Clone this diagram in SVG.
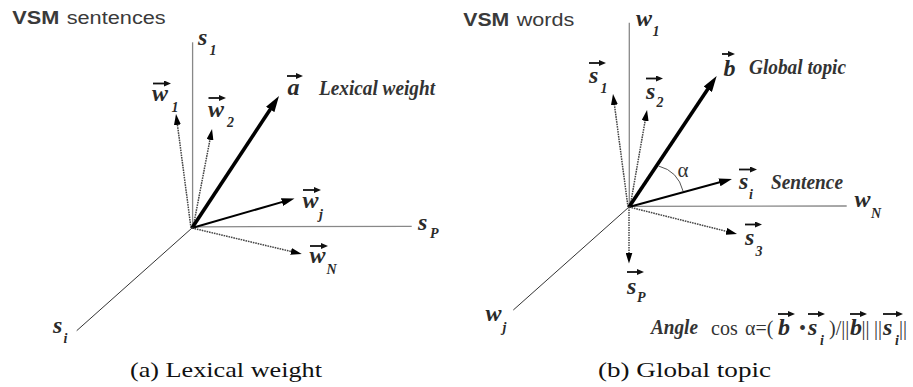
<svg xmlns="http://www.w3.org/2000/svg" width="913" height="387" viewBox="0 0 913 387">
<style>
.title{font-family:"Liberation Sans",Arial,sans-serif;font-size:18px;fill:#3a3a3a}
.b{font-weight:bold}
.v{font-family:"Liberation Serif","Times New Roman",serif;font-weight:bold;font-style:italic;font-size:24px;fill:#2a2a2a}
.sub{font-family:"Liberation Serif","Times New Roman",serif;font-weight:bold;font-style:italic;font-size:14px;fill:#2a2a2a}
.lbl{font-family:"Liberation Serif","Times New Roman",serif;font-weight:bold;font-style:italic;font-size:20px;fill:#333}
.rm{font-family:"Liberation Serif","Times New Roman",serif;font-size:21px;fill:#333}
.fm{font-family:"Liberation Serif","Times New Roman",serif;font-size:20px;fill:#333}
.cap{font-family:"Liberation Serif","Times New Roman",serif;font-size:22px;fill:#111}
.axis{stroke:#888;stroke-width:1.3;fill:none}
.axis2{stroke:#333;stroke-width:1;fill:none}
.thick{stroke:#000;stroke-width:3.6;fill:none}
.med{stroke:#000;stroke-width:2;fill:none}
.dot{stroke:#444;stroke-width:1.5;stroke-dasharray:1.6 0.9;fill:none}
.hat{stroke:#111;stroke-width:1.8;fill:none}
</style>
<defs>
<marker id="ab" markerUnits="userSpaceOnUse" markerWidth="16" markerHeight="10" refX="8" refY="5" orient="auto"><path d="M0,0 L16,5 L0,10 z" fill="#000"/></marker>
<marker id="am" markerUnits="userSpaceOnUse" markerWidth="13" markerHeight="8" refX="6" refY="4" orient="auto"><path d="M0,0 L13,4 L0,8 z" fill="#000"/></marker>
<marker id="as" markerUnits="userSpaceOnUse" markerWidth="11" markerHeight="7" refX="5" refY="3.5" orient="auto"><path d="M0,0 L11,3.5 L0,7 z" fill="#000"/></marker>
<marker id="ah" markerUnits="userSpaceOnUse" markerWidth="7" markerHeight="6" refX="3" refY="3" orient="auto"><path d="M0,0 L7,3 L0,6 z" fill="#111"/></marker>
</defs>

<!-- Left panel: VSM sentences -->
<g id="title-a">
<text class="title b" x="12.3" y="24" textLength="47" lengthAdjust="spacingAndGlyphs">VSM</text>
<text class="title" x="66.7" y="24" textLength="99" lengthAdjust="spacingAndGlyphs">sentences</text>
</g>
<g id="axes-a">
<line class="axis" x1="192.6" y1="42.3" x2="192.6" y2="228"/>
<line class="axis" x1="192" y1="226.8" x2="411.7" y2="226.3"/>
<line class="axis2" x1="192" y1="228" x2="76.7" y2="330.7"/>
</g>
<g id="connectors-a">
<line class="dot" x1="191" y1="228" x2="176.8" y2="119.9" marker-end="url(#as)"/>
<line class="dot" x1="193" y1="228" x2="210.9" y2="134.9" marker-end="url(#as)"/>
<line class="thick" x1="192" y1="228" x2="274.6" y2="102.7" marker-end="url(#ab)"/>
<line class="med" x1="192" y1="228" x2="287.8" y2="200.4" marker-end="url(#am)"/>
<line class="dot" x1="192" y1="228" x2="295.9" y2="252.6" marker-end="url(#as)"/>
</g>
<g id="label-s1-a"><text class="v" x="198" y="45">s</text><text class="sub" x="209.5" y="55">1</text></g>
<g id="node-w1"><line class="hat" x1="153" y1="83.5" x2="167" y2="83.5" marker-end="url(#ah)"/><text class="v" x="152" y="101">w</text><text class="sub" x="171.5" y="111.5">1</text></g>
<g id="node-w2"><line class="hat" x1="208.5" y1="98" x2="222" y2="98" marker-end="url(#ah)"/><text class="v" x="208" y="117">w</text><text class="sub" x="227" y="127">2</text></g>
<g id="node-a"><line class="hat" x1="287" y1="76" x2="299" y2="76" marker-end="url(#ah)"/><text class="v" x="287.5" y="95">a</text><text class="lbl" x="319" y="95" textLength="116" lengthAdjust="spacingAndGlyphs">Lexical weight</text></g>
<g id="node-wj"><line class="hat" x1="303" y1="190" x2="317" y2="190" marker-end="url(#ah)"/><text class="v" x="302.5" y="208">w</text><text class="sub" x="319" y="219">j</text></g>
<g id="node-wN"><line class="hat" x1="310" y1="246" x2="324" y2="246" marker-end="url(#ah)"/><text class="v" x="309.5" y="263">w</text><text class="sub" x="326.5" y="274">N</text></g>
<g id="label-sP-a"><text class="v" x="418" y="230">s</text><text class="sub" x="430" y="238">P</text></g>
<g id="label-si-a"><text class="v" x="53" y="333">s</text><text class="sub" x="63.5" y="343">i</text></g>
<text class="cap" x="130" y="377" textLength="192" lengthAdjust="spacingAndGlyphs">(a) Lexical weight</text>

<!-- Right panel: VSM words -->
<g id="title-b">
<text class="title b" x="463.3" y="26" textLength="46" lengthAdjust="spacingAndGlyphs">VSM</text>
<text class="title" x="516.7" y="26" textLength="57.6" lengthAdjust="spacingAndGlyphs">words</text>
</g>
<g id="axes-b">
<line class="axis" x1="629.3" y1="22.7" x2="629.3" y2="207"/>
<line class="axis" x1="629" y1="206.3" x2="846.7" y2="206"/>
<line class="axis2" x1="629" y1="207" x2="513.3" y2="310"/>
</g>
<g id="connectors-b">
<line class="dot" x1="628" y1="207" x2="613.8" y2="99.9" marker-end="url(#as)"/>
<line class="dot" x1="630" y1="207" x2="646" y2="115.9" marker-end="url(#as)"/>
<line class="thick" x1="629" y1="207" x2="712.2" y2="82.6" marker-end="url(#ab)"/>
<line class="med" x1="629" y1="207" x2="725.2" y2="180.8" marker-end="url(#am)"/>
<line class="dot" x1="629" y1="207" x2="731.2" y2="232.5" marker-end="url(#as)"/>
<line class="dot" x1="629" y1="207" x2="629" y2="257.5" marker-end="url(#as)"/>
<path d="M658.5,166 Q678,171 683,191" stroke="#555" stroke-width="1" fill="none"/>
</g>
<text class="rm" x="677.5" y="177" fill="#444">α</text>
<g id="label-w1-b"><text class="v" x="636" y="26">w</text><text class="sub" x="652.5" y="36">1</text></g>
<g id="node-s1"><line class="hat" x1="589" y1="63" x2="602" y2="63" marker-end="url(#ah)"/><text class="v" x="589" y="83">s</text><text class="sub" x="600.5" y="93">1</text></g>
<g id="node-s2"><line class="hat" x1="646" y1="78.5" x2="659" y2="78.5" marker-end="url(#ah)"/><text class="v" x="646" y="99">s</text><text class="sub" x="656.5" y="107">2</text></g>
<g id="node-b"><line class="hat" x1="722" y1="54" x2="731" y2="54" marker-end="url(#ah)"/><text class="v" x="723.5" y="76">b</text><text class="lbl" x="749" y="74" textLength="97" lengthAdjust="spacingAndGlyphs">Global topic</text></g>
<g id="node-si"><line class="hat" x1="739" y1="169.5" x2="753" y2="169.5" marker-end="url(#ah)"/><text class="v" x="739" y="189">s</text><text class="sub" x="749" y="199">i</text><text class="lbl" x="771" y="188.5" textLength="72" lengthAdjust="spacingAndGlyphs">Sentence</text></g>
<g id="label-wN-b"><text class="v" x="854.5" y="207">w</text><text class="sub" x="871" y="218">N</text></g>
<g id="node-s3"><line class="hat" x1="745" y1="224.5" x2="758" y2="224.5" marker-end="url(#ah)"/><text class="v" x="745" y="245">s</text><text class="sub" x="755.5" y="256">3</text></g>
<g id="node-sP"><line class="hat" x1="627" y1="272" x2="640" y2="272" marker-end="url(#ah)"/><text class="v" x="627" y="294">s</text><text class="sub" x="637" y="301.5">P</text></g>
<g id="label-wj-b"><text class="v" x="485.5" y="320.5">w</text><text class="sub" x="502.5" y="332">j</text></g>
<g id="formula">
<text class="lbl" x="651" y="334" font-size="19" textLength="47" lengthAdjust="spacingAndGlyphs">Angle</text>
<text class="fm" x="711" y="335">cos</text>
<text class="fm" x="745" y="335">α=(</text>
<text class="v" x="778" y="335" font-size="22">b</text>
<text class="fm" x="799" y="335">•</text>
<text class="v" x="808" y="335" font-size="22">s</text>
<text class="sub" x="820" y="345">i</text>
<text class="fm" x="829" y="335">)/||</text>
<text class="v" x="850" y="335" font-size="22">b</text>
<text class="fm" x="861.5" y="335">||</text>
<text class="fm" x="874" y="335">||</text>
<text class="v" x="883" y="335" font-size="22">s</text>
<text class="sub" x="895" y="345">i</text>
<text class="fm" x="899" y="335">||</text>
<line class="hat" x1="778" y1="314" x2="791" y2="314" marker-end="url(#ah)"/>
<line class="hat" x1="808" y1="314" x2="821" y2="314" marker-end="url(#ah)"/>
<line class="hat" x1="850" y1="314" x2="863" y2="314" marker-end="url(#ah)"/>
<line class="hat" x1="883" y1="314" x2="899" y2="314" marker-end="url(#ah)"/>
</g>
<text class="cap" x="598" y="377" textLength="173" lengthAdjust="spacingAndGlyphs">(b) Global topic</text>
</svg>
